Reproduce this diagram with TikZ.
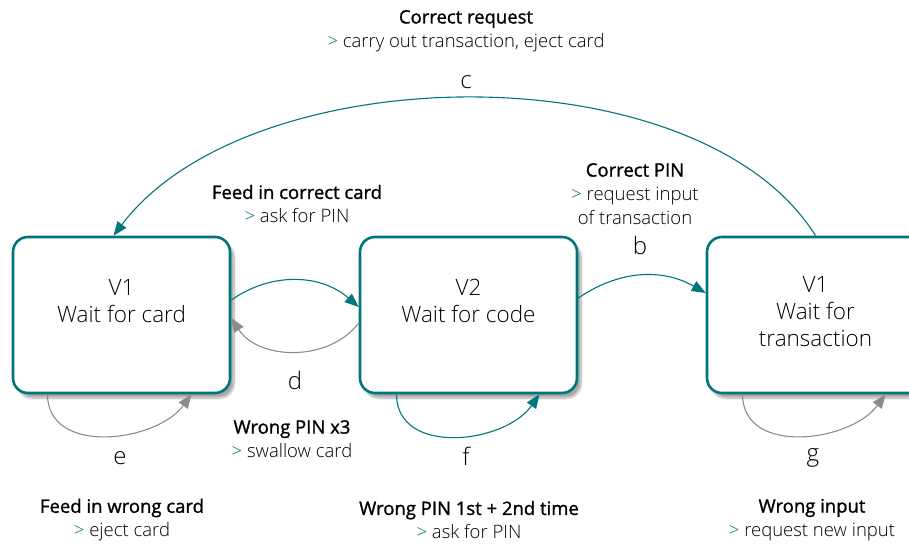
\documentclass[tikz,border=0pt]{standalone}
\usepackage{fontspec}
\setmainfont{Open Sans Light}[BoldFont={Open Sans}, BoldFeatures={FakeBold=1.2}]
\usetikzlibrary{arrows.meta, shadows.blur}
\definecolor{atmteal}{HTML}{00767A}
\definecolor{atmgray}{HTML}{8C8C8C}
\newcommand{\nxt}{\textcolor{atmteal}{>}\ }

\begin{document}
\begin{tikzpicture}[x=1pt, y=-1pt,
  state/.style={rectangle, draw=atmteal, line width=2.6pt, rounded corners=15pt,
    fill=white, minimum width=217pt, minimum height=156pt, align=center,
    font=\fontsize{22.5}{27}\selectfont,
    blur shadow={shadow xshift=4pt, shadow yshift=-5pt, shadow blur steps=10, shadow opacity=35}},
  info/.style={align=center, font=\fontsize{18.5}{24}\selectfont},
  letter/.style={font=\fontsize{24}{24}\selectfont},
  go/.style={draw=atmteal, line width=1.1pt, -{Triangle[length=14pt,width=11pt]}},
  back/.style={draw=atmgray, line width=1.1pt, -{Triangle[length=14pt,width=11pt]}}]
  \useasboundingbox (0,0) rectangle (909,545);

  \node[state] (v1) at (121.5,315) {V1\\Wait for card\\[1pt]~};
  \node[state] (v2) at (468.5,315) {V2\\Wait for code\\[1pt]~};
  \node[state] (v3) at (815.5,315) {V1\\Wait for\\transaction\\[-20pt]~};

  \node[info] (tc) at (466,31) {\textbf{Correct request}\\\nxt carry out transaction, eject card};
  \node[letter] (lc) at (466,82) {c};
  \node[info] (ta) at (297,204) {\textbf{Feed in correct card}\\\nxt ask for PIN};
  \node[info] (tb) at (635,194) {\textbf{Correct PIN}\\\nxt request input\\of transaction};
  \node[letter] (lb) at (640,245) {b};
  \node[letter] (ld) at (295,380) {d};
  \node[info] (td) at (292,439) {\textbf{Wrong PIN x3}\\\nxt swallow card};
  \node[letter] (le) at (120,458) {e};
  \node[letter] (lf) at (466,456) {f};
  \node[letter] (lg) at (813,458) {g};
  \node[info] (te) at (122,520) {\textbf{Feed in wrong card}\\\nxt eject card};
  \node[info] (tf) at (469,520) {\textbf{Wrong PIN 1st + 2nd time}\\\nxt ask for PIN};
  \node[info] (tg) at (812,520) {\textbf{Wrong input}\\\nxt request new input};

  \draw[go] (v3.north) .. controls (700,50) and (250,55) .. ([xshift=-8pt]v1.north);
  \draw[go] ([yshift=15pt]v1.east) to[bend left=38] ([yshift=8pt]v2.west);
  \draw[back] ([yshift=-8pt]v2.west) to[bend left=55] ([yshift=-3pt]v1.east);
  \draw[go] ([yshift=17pt]v2.east) to[bend left=32] ([yshift=22pt]v3.west);
  \draw[back] ([xshift=-74pt]v1.south) .. controls +(0,62) and +(-35,48) .. ([xshift=70pt]v1.south);
  \draw[go] ([xshift=-72pt]v2.south) .. controls +(0,62) and +(-35,50) .. ([xshift=71pt]v2.south);
  \draw[back] ([xshift=-73pt]v3.south) .. controls +(0,62) and +(-35,48) .. ([xshift=70pt]v3.south);
\end{tikzpicture}
\end{document}
